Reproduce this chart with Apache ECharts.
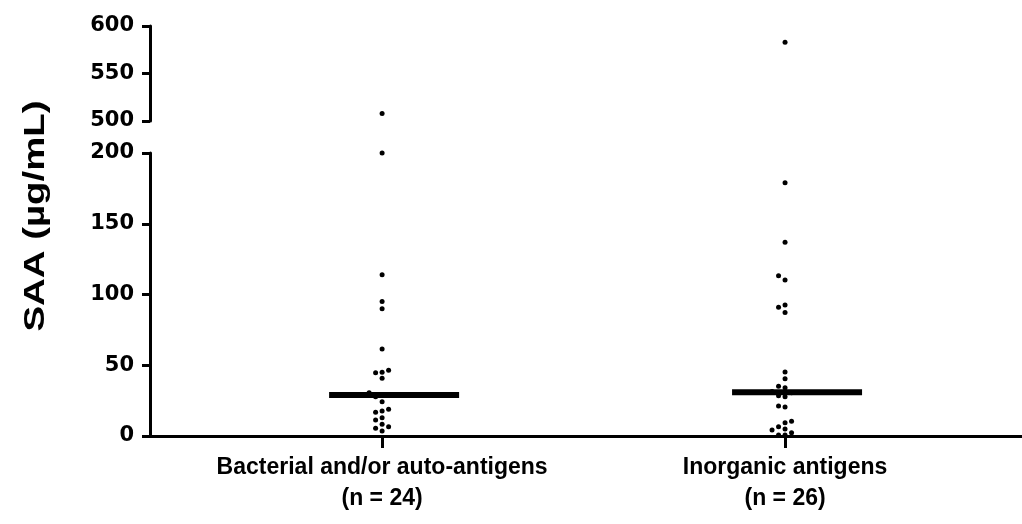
<!DOCTYPE html>
<html>
<head>
<meta charset="utf-8">
<script src="https://cdn.jsdelivr.net/npm/echarts@6/dist/echarts.min.js"></script>
<style>
  html, body { margin: 0; padding: 0; background: #fff; }
  #chart { width: 1022px; height: 524px; }
</style>
</head>
<body>
<div id="chart"></div>
<script>
// groups and values
const groupNames = ["Bacterial and/or auto-antigens", "Inorganic antigens"];
const bacterialValues = [508, 200, 114, 95, 90, 61.5, 46.4, 45, 44.7, 40.8, 30.5, 29.2, 28.8,
  27.8, 24.2, 18.9, 17.7, 16.7, 12.9, 11.3, 8.3, 6.6, 5.4, 3.5];
const inorganicValues = [583, 179, 137, 113.3, 110.2, 92.6, 91, 87.2, 45.2, 40.5, 35.1, 34.1,
  31.5, 30.5, 28.5, 27.8, 21.2, 20.5, 10.4, 9.4, 6.6, 5, 4.2, 2.3, 0.7, 0.7];
const upperTicks = [500, 550, 600];
const lowerTicks = [0, 50, 100, 150, 200];
const yTitle = "SAA (µg/mL)";

const groupValues = [bacterialValues, inorganicValues];
const breakAt = 300; // values above this go in the upper panel

const tickFont = '"DejaVu Sans", "Liberation Sans", sans-serif';
const textFont = '"Liberation Sans", Arial, sans-serif';

function median(arr) {
  const s = [...arr].sort((a, b) => a - b);
  const m = s.length / 2;
  return s.length % 2 ? s[Math.floor(m)] : (s[m - 1] + s[m]) / 2;
}

function yAxisFor(ticks, gridIndex) {
  return {
    type: "value",
    gridIndex: gridIndex,
    min: ticks[0],
    max: ticks[ticks.length - 1],
    interval: ticks[1] - ticks[0],
    axisLine: { show: true, lineStyle: { color: "#000", width: 3 } },
    axisTick: { show: true, length: 8, lineStyle: { color: "#000", width: 3 } },
    axisLabel: { color: "#000", fontFamily: tickFont, fontWeight: "bold", fontSize: 21, margin: 16 },
    splitLine: { show: false },
  };
}

// x positions of the two columns on a value axis
const xMin = 0.424, xMax = 2.588;

const chart = echarts.init(document.getElementById("chart"));

function buildSeries(offsets) {
  const series = [];
  groupValues.forEach((vals, gi) => {
    const x = gi + 1;
    [0, 1].forEach((panel) => {
      const data = [];
      vals.forEach((v, i) => {
        const inUpper = v > breakAt;
        if ((panel === 0) !== inUpper) return;
        data.push({ value: [x, v], symbolOffset: [offsets ? offsets[gi][i] : 0, 0] });
      });
      series.push({
        type: "scatter",
        xAxisIndex: panel,
        yAxisIndex: panel,
        data: data,
        symbolSize: 5,
        itemStyle: { color: "#000", opacity: 1 },
        clip: false,
        z: 2,
      });
    });
    // median bar
    series.push({
      type: "scatter",
      xAxisIndex: 1,
      yAxisIndex: 1,
      data: [[x, median(vals)]],
      symbol: "rect",
      symbolSize: [130, 6],
      symbolOffset: [12, 0],
      itemStyle: { color: "#000", opacity: 1 },
      z: 3,
    });
  });
  return series;
}

const option = {
  animation: false,
  backgroundColor: "#fff",
  grid: [
    { left: 150, right: 0, top: 26, height: 95 },
    { left: 150, right: 0, top: 153, height: 283 },
  ],
  xAxis: [
    { type: "value", gridIndex: 0, min: xMin, max: xMax, show: false },
    {
      type: "value",
      gridIndex: 1,
      min: xMin,
      max: xMax,
      axisLine: { show: true, onZero: false, lineStyle: { color: "#000", width: 3 } },
      axisTick: { show: true, customValues: [1, 2], length: 12, lineStyle: { color: "#000", width: 3 } },
      axisLabel: {
        customValues: [1, 2],
        color: "#000",
        fontFamily: textFont,
        fontWeight: "bold",
        fontSize: 23,
        lineHeight: 31,
        margin: 16,
        formatter: function (value) {
          const gi = Math.round(value) - 1;
          return groupNames[gi] + "\n(n = " + groupValues[gi].length + ")";
        },
      },
      splitLine: { show: false },
    },
  ],
  yAxis: [yAxisFor(upperTicks, 0), yAxisFor(lowerTicks, 1)],
  graphic: [
    {
      type: "text",
      x: 36,
      y: 216,
      rotation: Math.PI / 2,
      scaleX: 1.28,
      style: {
        text: yTitle,
        fill: "#000",
        font: "bold 30px " + textFont,
        textAlign: "center",
        textVerticalAlign: "middle",
      },
    },
  ],
  series: buildSeries(null),
};

chart.setOption(option);

// simple beeswarm: spread dots sideways where they would overlap
const step = 6.5, minGap = 5.6;
const offsets = groupValues.map((vals, gi) => {
  const x = gi + 1;
  const pts = vals.map((v, i) => {
    const panel = v > breakAt ? 0 : 1;
    const py = chart.convertToPixel({ xAxisIndex: panel, yAxisIndex: panel }, [x, v])[1];
    return { i: i, y: py, dx: 0 };
  });
  pts.sort((a, b) => b.y - a.y);
  const placed = [];
  const candidates = [0, -step, step, -2 * step, 2 * step, -3 * step, 3 * step];
  pts.forEach((p) => {
    for (const c of candidates) {
      const hit = placed.some((q) => Math.hypot(q.dx - c, q.y - p.y) < minGap);
      if (!hit) { p.dx = c; break; }
    }
    placed.push(p);
  });
  const out = [];
  pts.forEach((p) => { out[p.i] = p.dx; });
  return out;
});

chart.setOption({ series: buildSeries(offsets) });
</script>
</body>
</html>
